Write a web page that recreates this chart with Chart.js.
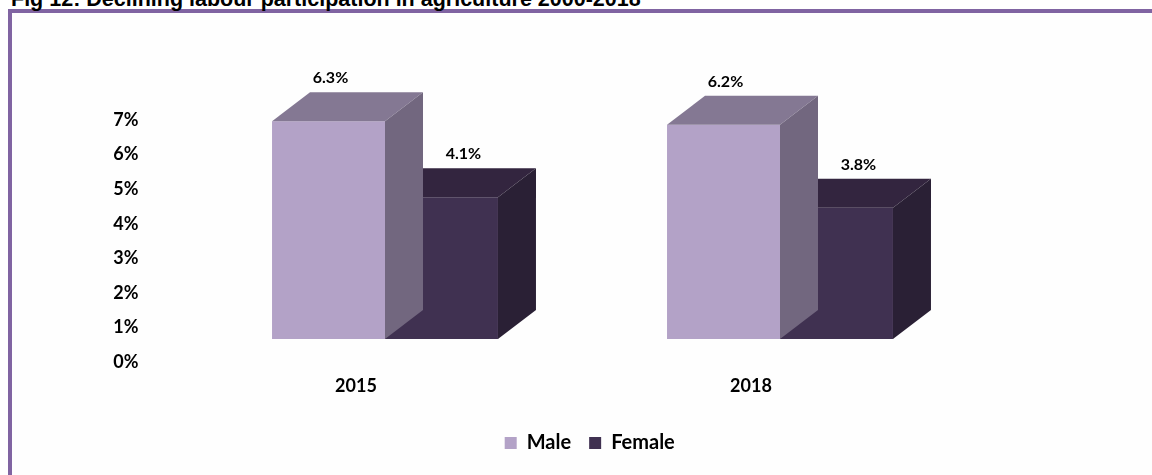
<!DOCTYPE html>
<html>
<head>
<meta charset="utf-8">
<script src="https://cdn.jsdelivr.net/npm/chart.js@4"></script>
<style>
  html, body { margin: 0; padding: 0; background: #fff; overflow: hidden; }
  #title {
    position: absolute; left: 11px; top: -13px;
    font: bold 21.5px "Liberation Sans", Arial, sans-serif; line-height: 24px;
    color: #000; white-space: nowrap;
  }
  #frame {
    position: absolute; left: 8px; top: 9px; width: 1200px; height: 520px;
    border-left: 4px solid #8064A2; border-top: 4px solid #8064A2;
    background: #fefefe;
  }
  #wrap { position: absolute; left: 0; top: 0; width: 1152px; height: 475px; }
</style>
</head>
<body>
<div id="frame"></div>
<div id="title">Fig 12: Declining labour participation in agriculture 2000-2018</div>
<div id="wrap"><canvas id="chart" width="1152" height="475"></canvas></div>
<script>
// data
const categories = ['2015', '2018'];
const maleValues = [6.3, 6.2];
const femaleValues = [4.1, 3.8];
const yTickValues = [0, 1, 2, 3, 4, 5, 6, 7];

// colours: front, top, side
const maleColors = ['#B3A2C7', '#847893', '#72677F'];
const femaleColors = ['#403151', '#33253F', '#2A2035'];

// draws the top + side faces of every bar so they look like Excel 3D columns
const bars3d = {
  id: 'bars3d',
  afterLayout(chart, args, opts) {
    // legend sits a bit right of the plot centre in the original
    chart.legend.left += opts.legendShift;
    chart.legend.right += opts.legendShift;
  },
  afterDatasetDraw(chart, args, opts) {
    const ctx = chart.ctx;
    const ds = chart.data.datasets[args.index];
    const dx = opts.dx, dy = opts.dy;
    args.meta.data.forEach(bar => {
      const p = bar.getProps(['x', 'y', 'base', 'width'], true);
      const l = p.x - p.width / 2, r = p.x + p.width / 2;
      // top face
      ctx.fillStyle = ds.topColor;
      ctx.beginPath();
      ctx.moveTo(l, p.y);
      ctx.lineTo(l + dx, p.y - dy);
      ctx.lineTo(r + dx, p.y - dy);
      ctx.lineTo(r, p.y);
      ctx.closePath();
      ctx.fill();
      // side face
      ctx.fillStyle = ds.sideColor;
      ctx.beginPath();
      ctx.moveTo(r, p.y);
      ctx.lineTo(r + dx, p.y - dy);
      ctx.lineTo(r + dx, p.base - dy);
      ctx.lineTo(r, p.base);
      ctx.closePath();
      ctx.fill();
    });
  },
  afterDatasetsDraw(chart, args, opts) {
    const ctx = chart.ctx;
    ctx.save();
    ctx.font = 'bold 16px Lato, sans-serif';
    ctx.fillStyle = '#000';
    ctx.textAlign = 'center';
    ctx.textBaseline = 'middle';
    chart.data.datasets.forEach((ds, i) => {
      chart.getDatasetMeta(i).data.forEach((bar, j) => {
        ctx.fillText(ds.data[j].toFixed(1) + '%', bar.x + opts.labelShift[i], bar.y - opts.dy - 14);
      });
    });
    ctx.restore();
  }
};

new Chart(document.getElementById('chart'), {
  type: 'bar',
  data: {
    labels: categories,
    datasets: [
      { label: 'Male', data: maleValues, backgroundColor: maleColors[0], topColor: maleColors[1], sideColor: maleColors[2] },
      { label: 'Female', data: femaleValues, backgroundColor: femaleColors[0], topColor: femaleColors[1], sideColor: femaleColors[2] }
    ]
  },
  plugins: [bars3d],
  options: {
    responsive: false,
    animation: false,
    categoryPercentage: 0.572,
    barPercentage: 1,
    layout: { padding: { top: 97, right: 174.5, bottom: 12, left: 0 } },
    scales: {
      x: {
        grid: { display: false },
        border: { display: false },
        ticks: { color: '#000', font: { family: 'Lato', size: 18, weight: 'bold' }, padding: 28, labelOffset: -29 },
        afterFit(s) { s.height = 76; }
      },
      y: {
        min: 0, max: 7,
        grid: { display: false },
        border: { display: false },
        afterBuildTicks(s) { s.ticks = yTickValues.map(v => ({ value: v })); },
        ticks: {
          color: '#000', font: { family: 'Lato', size: 18, weight: 'bold' },
          padding: 41, labelOffset: 23,
          callback: v => v + '%'
        },
        afterFit(s) { s.width = 187.5; }
      }
    },
    plugins: {
      bars3d: { dx: 38, dy: 29, labelShift: [2, 22], legendShift: 101 },
      tooltip: { enabled: false },
      legend: {
        position: 'bottom',
        labels: {
          color: '#000', boxWidth: 12, boxHeight: 12, padding: 18,
          font: { family: 'Lato', size: 20, weight: 'bold' }
        }
      }
    }
  }
});
</script>
</body>
</html>
